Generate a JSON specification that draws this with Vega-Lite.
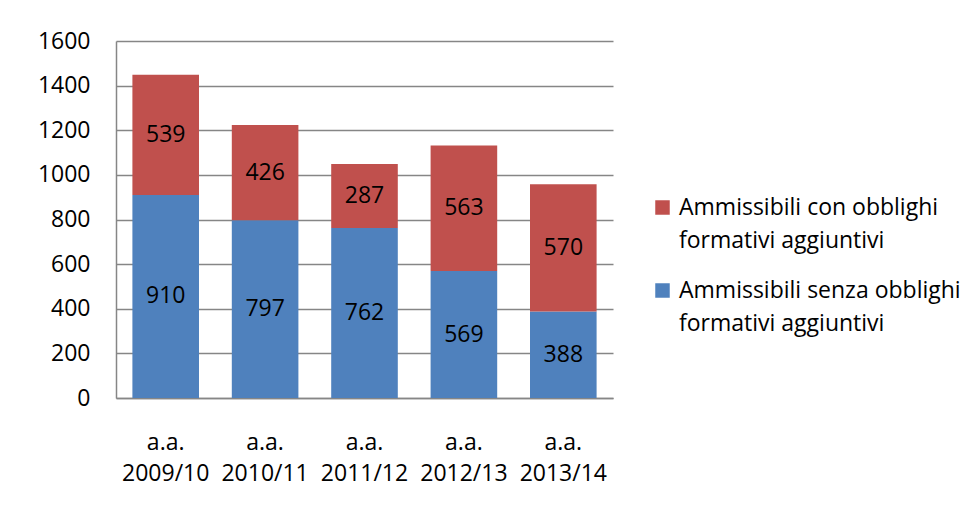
{
  "$schema": "https://vega.github.io/schema/vega-lite/v6.json",
  "width": 497,
  "height": 357,
  "autosize": {"type": "none"},
  "padding": {"left": 116, "top": 41, "right": 360, "bottom": 110},
  "background": "white",
  "config": {
    "font": "Open Sans",
    "view": {"stroke": null},
    "axis": {"labelFont": "Open Sans", "labelFontSize": 23, "labelColor": "#000000", "ticks": false, "domainColor": "#868686", "domainWidth": 1.5, "gridColor": "#868686", "gridWidth": 1.5, "title": null}
  },
  "data": {
    "values": [
      {"anno": "a.a. 2009/10", "serie": "Ammissibili senza obblighi formativi aggiuntivi", "valore": 910},
      {"anno": "a.a. 2009/10", "serie": "Ammissibili con obblighi formativi aggiuntivi", "valore": 539},
      {"anno": "a.a. 2010/11", "serie": "Ammissibili senza obblighi formativi aggiuntivi", "valore": 797},
      {"anno": "a.a. 2010/11", "serie": "Ammissibili con obblighi formativi aggiuntivi", "valore": 426},
      {"anno": "a.a. 2011/12", "serie": "Ammissibili senza obblighi formativi aggiuntivi", "valore": 762},
      {"anno": "a.a. 2011/12", "serie": "Ammissibili con obblighi formativi aggiuntivi", "valore": 287},
      {"anno": "a.a. 2012/13", "serie": "Ammissibili senza obblighi formativi aggiuntivi", "valore": 569},
      {"anno": "a.a. 2012/13", "serie": "Ammissibili con obblighi formativi aggiuntivi", "valore": 563},
      {"anno": "a.a. 2013/14", "serie": "Ammissibili senza obblighi formativi aggiuntivi", "valore": 388},
      {"anno": "a.a. 2013/14", "serie": "Ammissibili con obblighi formativi aggiuntivi", "valore": 570}
    ]
  },
  "transform": [
    {"stack": "valore", "groupby": ["anno"], "sort": [{"field": "serie", "order": "descending"}], "as": ["v0", "v1"]},
    {"calculate": "(datum.v0 + datum.v1) / 2", "as": "mid"}
  ],
  "encoding": {
    "x": {
      "field": "anno", "type": "nominal",
      "scale": {"paddingInner": 0.33, "paddingOuter": 0.165},
      "axis": {"labelAngle": 0, "labelExpr": "split(datum.label, ' ')", "labelLineHeight": 31, "labelPadding": 33, "labelBaseline": "top", "grid": false}
    }
  },
  "layer": [
    {
      "mark": {"type": "bar"},
      "encoding": {
        "y": {"field": "v0", "type": "quantitative", "scale": {"domain": [0, 1600]}, "axis": {"values": [0, 200, 400, 600, 800, 1000, 1200, 1400, 1600], "format": "d", "labelPadding": 26, "grid": true}},
        "y2": {"field": "v1"},
        "color": {
          "field": "serie", "type": "nominal",
          "scale": {"domain": ["Ammissibili con obblighi formativi aggiuntivi", "Ammissibili senza obblighi formativi aggiuntivi"], "range": ["#C0504D", "#4F81BD"]},
          "legend": {
            "title": null, "orient": "none", "legendX": 535, "legendY": 155,
            "symbolType": "square", "symbolSize": 210, "symbolStrokeWidth": 0,
            "labelFont": "Open Sans", "labelFontSize": 23, "labelColor": "#000000", "labelLimit": 400,
            "labelExpr": "split(replace(datum.label, ' formativi', '|formativi'), '|')",
            "labelOffset": 5, "rowPadding": 26, "padding": 0,
            "encode": {"labels": {"update": {"lineHeight": {"value": 33}}}}
          }
        }
      }
    },
    {
      "mark": {"type": "text", "font": "Open Sans", "fontSize": 23, "color": "#000000", "baseline": "middle"},
      "encoding": {
        "y": {"field": "mid", "type": "quantitative"},
        "text": {"field": "valore", "type": "quantitative"}
      }
    }
  ]
}
